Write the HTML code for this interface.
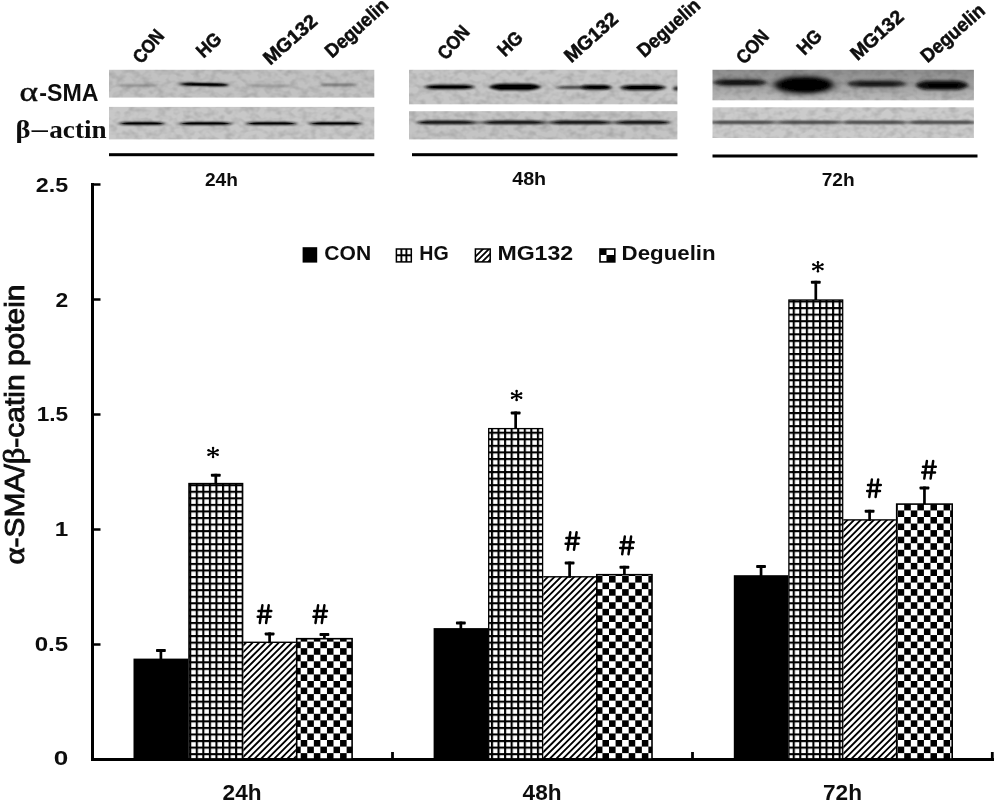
<!DOCTYPE html>
<html><head><meta charset="utf-8"><title>Figure</title>
<style>
html,body{margin:0;padding:0;background:#fff;}
body{width:995px;height:802px;overflow:hidden;}
svg{display:block;}
text{font-family:"Liberation Sans",sans-serif;font-weight:bold;fill:#111;}
.serif{font-family:"Liberation Serif",serif;}
</style></head><body>
<svg width="995" height="802" viewBox="0 0 995 802">
<defs>
<pattern id="grid" patternUnits="userSpaceOnUse" x="5.5" y="5.3" width="6.56" height="6.56">
<rect width="6.56" height="6.56" fill="#fff"/><rect width="6.56" height="2.1" fill="#000"/><rect width="2.1" height="6.56" fill="#000"/></pattern>
<pattern id="chk" patternUnits="userSpaceOnUse" x="5.5" y="5.3" width="13.12" height="13.12">
<rect width="13.12" height="13.12" fill="#fff"/><rect x="6.56" width="6.56" height="6.56" fill="#000"/><rect y="6.56" width="6.56" height="6.56" fill="#000"/></pattern>
<pattern id="hat" patternUnits="userSpaceOnUse" x="2.8" y="0" width="6.56" height="6.56">
<rect width="6.56" height="6.56" fill="#fff"/>
<path d="M-6.56 6.56 L6.56 -6.56 M0 6.56 L6.56 0 M0 13.12 L13.12 0" stroke="#000" stroke-width="1.75" fill="none"/></pattern>
<filter id="b0" x="-20%" y="-200%" width="140%" height="500%"><feGaussianBlur stdDeviation="1.2 0.5"/></filter>
<filter id="b1" x="-20%" y="-200%" width="140%" height="500%"><feGaussianBlur stdDeviation="1.6 0.9"/></filter>
<filter id="b2" x="-20%" y="-200%" width="140%" height="500%"><feGaussianBlur stdDeviation="1.8"/></filter>
<filter id="b3" x="-30%" y="-100%" width="160%" height="300%"><feGaussianBlur stdDeviation="3.2 2.6"/></filter>
<filter id="soft" x="0" y="0" width="995" height="802" filterUnits="userSpaceOnUse"><feGaussianBlur stdDeviation="0.45"/></filter>
<filter id="nz1" x="0" y="0" width="100%" height="100%"><feTurbulence type="fractalNoise" baseFrequency="0.12 0.16" numOctaves="2" seed="7" result="t"/><feColorMatrix in="t" type="matrix" values="0 0 0 0 0 0 0 0 0 0 0 0 0 0 0 0.3 0 0 0 -0.12" result="a"/><feComposite in="a" in2="SourceGraphic" operator="in"/></filter>
<filter id="nz2" x="0" y="0" width="100%" height="100%"><feTurbulence type="fractalNoise" baseFrequency="0.12 0.16" numOctaves="2" seed="14" result="t"/><feColorMatrix in="t" type="matrix" values="0 0 0 0 0 0 0 0 0 0 0 0 0 0 0 0.3 0 0 0 -0.12" result="a"/><feComposite in="a" in2="SourceGraphic" operator="in"/></filter>
<filter id="nz3" x="0" y="0" width="100%" height="100%"><feTurbulence type="fractalNoise" baseFrequency="0.12 0.16" numOctaves="2" seed="21" result="t"/><feColorMatrix in="t" type="matrix" values="0 0 0 0 0 0 0 0 0 0 0 0 0 0 0 0.3 0 0 0 -0.12" result="a"/><feComposite in="a" in2="SourceGraphic" operator="in"/></filter>
<filter id="nz4" x="0" y="0" width="100%" height="100%"><feTurbulence type="fractalNoise" baseFrequency="0.12 0.16" numOctaves="2" seed="28" result="t"/><feColorMatrix in="t" type="matrix" values="0 0 0 0 0 0 0 0 0 0 0 0 0 0 0 0.3 0 0 0 -0.12" result="a"/><feComposite in="a" in2="SourceGraphic" operator="in"/></filter>
<filter id="nz5" x="0" y="0" width="100%" height="100%"><feTurbulence type="fractalNoise" baseFrequency="0.12 0.16" numOctaves="2" seed="35" result="t"/><feColorMatrix in="t" type="matrix" values="0 0 0 0 0 0 0 0 0 0 0 0 0 0 0 0.3 0 0 0 -0.12" result="a"/><feComposite in="a" in2="SourceGraphic" operator="in"/></filter>
<filter id="nz6" x="0" y="0" width="100%" height="100%"><feTurbulence type="fractalNoise" baseFrequency="0.12 0.16" numOctaves="2" seed="42" result="t"/><feColorMatrix in="t" type="matrix" values="0 0 0 0 0 0 0 0 0 0 0 0 0 0 0 0.3 0 0 0 -0.12" result="a"/><feComposite in="a" in2="SourceGraphic" operator="in"/></filter>
</defs>
<rect width="995" height="802" fill="#fff"/>
<g filter="url(#soft)">
<g id="blots">
<rect x="109" y="69.8" width="265.3" height="27.8" fill="#c2c2c2"/>
<rect x="109" y="69.8" width="265.3" height="27.8" fill="#000" filter="url(#nz1)"/>
<path d="M117.0 85.6 Q121.7 84.60 126.5 84.60 H149.6 Q154.3 84.60 159.0 85.6 Q154.3 86.60 149.6 86.60 H126.5 Q121.7 86.60 117.0 85.6Z" fill="#3a3a3a" opacity="0.5" filter="url(#b1)"/>
<path d="M177.0 84.5 Q183.0 82.90 189.0 82.90 H219.0 Q225.0 82.90 231.0 84.5 Q225.0 86.10 219.0 86.10 H189.0 Q183.0 86.10 177.0 84.5Z" fill="#000" opacity="0.95" filter="url(#b1)" transform="rotate(1.2 204.0 84.5)"/>
<path d="M182.0 84.5 Q187.2 83.50 192.3 83.50 H217.7 Q222.8 83.50 228.0 84.5 Q222.8 85.50 217.7 85.50 H192.3 Q187.2 85.50 182.0 84.5Z" fill="#000" opacity="1" filter="url(#b0)" transform="rotate(1.2 205.0 84.5)"/>
<path d="M246.0 85.8 Q251.5 84.90 257.0 84.90 H284.0 Q289.5 84.90 295.0 85.8 Q289.5 86.70 284.0 86.70 H257.0 Q251.5 86.70 246.0 85.8Z" fill="#3a3a3a" opacity="0.45" filter="url(#b1)"/>
<path d="M319.0 84.9 Q323.4 83.80 327.8 83.80 H349.2 Q353.6 83.80 358.0 84.9 Q353.6 86.00 349.2 86.00 H327.8 Q323.4 86.00 319.0 84.9Z" fill="#2a2a2a" opacity="0.6" filter="url(#b1)"/>
<rect x="109" y="106.9" width="265.3" height="32.5" fill="#c8c8c8"/>
<rect x="109" y="106.9" width="265.3" height="32.5" fill="#000" filter="url(#nz2)"/>
<path d="M117.0 123.4 Q122.6 121.90 128.2 121.90 H155.8 Q161.4 121.90 167.0 123.4 Q161.4 124.90 155.8 124.90 H128.2 Q122.6 124.90 117.0 123.4Z" fill="#111" opacity="0.95" filter="url(#b1)"/>
<path d="M121.0 123.4 Q125.7 122.50 130.4 122.50 H153.6 Q158.3 122.50 163.0 123.4 Q158.3 124.30 153.6 124.30 H130.4 Q125.7 124.30 121.0 123.4Z" fill="#000" opacity="0.9" filter="url(#b0)"/>
<path d="M177.0 123.4 Q183.0 121.90 189.0 121.90 H222.0 Q228.0 121.90 234.0 123.4 Q228.0 124.90 222.0 124.90 H189.0 Q183.0 124.90 177.0 123.4Z" fill="#111" opacity="0.95" filter="url(#b1)"/>
<path d="M181.0 123.4 Q186.5 122.50 192.0 122.50 H219.0 Q224.5 122.50 230.0 123.4 Q224.5 124.30 219.0 124.30 H192.0 Q186.5 124.30 181.0 123.4Z" fill="#000" opacity="0.9" filter="url(#b0)"/>
<path d="M244.0 123.4 Q250.0 121.90 256.0 121.90 H287.0 Q293.0 121.90 299.0 123.4 Q293.0 124.90 287.0 124.90 H256.0 Q250.0 124.90 244.0 123.4Z" fill="#111" opacity="0.95" filter="url(#b1)"/>
<path d="M248.0 123.4 Q253.3 122.50 258.6 122.50 H284.4 Q289.7 122.50 295.0 123.4 Q289.7 124.30 284.4 124.30 H258.6 Q253.3 124.30 248.0 123.4Z" fill="#000" opacity="0.9" filter="url(#b0)"/>
<path d="M307.0 123.4 Q313.0 121.90 319.0 121.90 H352.0 Q358.0 121.90 364.0 123.4 Q358.0 124.90 352.0 124.90 H319.0 Q313.0 124.90 307.0 123.4Z" fill="#111" opacity="0.95" filter="url(#b1)"/>
<path d="M311.0 123.4 Q316.5 122.50 322.0 122.50 H349.0 Q354.5 122.50 360.0 123.4 Q354.5 124.30 349.0 124.30 H322.0 Q316.5 124.30 311.0 123.4Z" fill="#000" opacity="0.9" filter="url(#b0)"/>
<clipPath id="c2"><rect x="409" y="69.8" width="268.4" height="34.5"/></clipPath>
<rect x="409" y="69.8" width="268.4" height="34.5" fill="#c6c6c6"/>
<rect x="409" y="69.8" width="268.4" height="34.5" fill="#000" filter="url(#nz3)"/>
<g clip-path="url(#c2)">
<path d="M423.0 87 Q429.0 84.70 434.9 84.70 H464.1 Q470.0 84.70 476.0 87 Q470.0 89.30 464.1 89.30 H434.9 Q429.0 89.30 423.0 87Z" fill="#0c0c0c" opacity="1" filter="url(#b1)"/>
<path d="M429.0 87 Q433.7 85.70 438.4 85.70 H461.6 Q466.3 85.70 471.0 87 Q466.3 88.30 461.6 88.30 H438.4 Q433.7 88.30 429.0 87Z" fill="#000" opacity="1" filter="url(#b0)"/>
<path d="M488.0 87 Q494.0 83.80 500.0 83.80 H530.0 Q536.0 83.80 542.0 87 Q536.0 90.20 530.0 90.20 H500.0 Q494.0 90.20 488.0 87Z" fill="#050505" opacity="1" filter="url(#b1)"/>
<path d="M494.0 87 Q498.8 85.00 503.7 85.00 H527.3 Q532.2 85.00 537.0 87 Q532.2 89.00 527.3 89.00 H503.7 Q498.8 89.00 494.0 87Z" fill="#000" opacity="1" filter="url(#b0)"/>
<path d="M555.0 87.4 Q561.0 86.20 567.0 86.20 H600.0 Q606.0 86.20 612.0 87.4 Q606.0 88.60 600.0 88.60 H567.0 Q561.0 88.60 555.0 87.4Z" fill="#1a1a1a" opacity="1" filter="url(#b1)"/>
<path d="M580.0 87.2 Q583.6 84.90 587.2 84.90 H604.8 Q608.4 84.90 612.0 87.2 Q608.4 89.50 604.8 89.50 H587.2 Q583.6 89.50 580.0 87.2Z" fill="#111" opacity="1" filter="url(#b1)"/>
<path d="M586.0 87.2 Q588.5 86.00 591.0 86.00 H603.0 Q605.5 86.00 608.0 87.2 Q605.5 88.40 603.0 88.40 H591.0 Q588.5 88.40 586.0 87.2Z" fill="#000" opacity="1" filter="url(#b0)"/>
<path d="M619.0 87.6 Q624.4 85.00 629.8 85.00 H656.2 Q661.6 85.00 667.0 87.6 Q661.6 90.20 656.2 90.20 H629.8 Q624.4 90.20 619.0 87.6Z" fill="#0a0a0a" opacity="1" filter="url(#b1)"/>
<path d="M625.0 87.6 Q629.2 86.10 633.3 86.10 H653.7 Q657.8 86.10 662.0 87.6 Q657.8 89.10 653.7 89.10 H633.3 Q629.2 89.10 625.0 87.6Z" fill="#000" opacity="1" filter="url(#b0)"/>
<ellipse cx="677.0" cy="88.6" rx="4.0" ry="2.00" fill="#222" opacity="1" filter="url(#b1)"/>
</g>
<rect x="409" y="111.2" width="268.4" height="28.2" fill="#c4c4c4"/>
<rect x="409" y="111.2" width="268.4" height="28.2" fill="#000" filter="url(#nz4)"/>
<path d="M415.0 122.4 Q421.0 120.80 427.0 120.80 H465.0 Q471.0 120.80 477.0 122.4 Q471.0 124.00 465.0 124.00 H427.0 Q421.0 124.00 415.0 122.4Z" fill="#111" opacity="0.95" filter="url(#b1)"/>
<path d="M420.0 122.4 Q425.9 121.50 431.7 121.50 H460.3 Q466.1 121.50 472.0 122.4 Q466.1 123.30 460.3 123.30 H431.7 Q425.9 123.30 420.0 122.4Z" fill="#000" opacity="0.9" filter="url(#b0)"/>
<path d="M482.0 122.4 Q488.0 120.80 494.0 120.80 H534.0 Q540.0 120.80 546.0 122.4 Q540.0 124.00 534.0 124.00 H494.0 Q488.0 124.00 482.0 122.4Z" fill="#111" opacity="0.95" filter="url(#b1)"/>
<path d="M487.0 122.4 Q493.0 121.50 499.0 121.50 H529.0 Q535.0 121.50 541.0 122.4 Q535.0 123.30 529.0 123.30 H499.0 Q493.0 123.30 487.0 122.4Z" fill="#000" opacity="0.9" filter="url(#b0)"/>
<path d="M549.0 122.4 Q555.0 120.80 561.0 120.80 H600.0 Q606.0 120.80 612.0 122.4 Q606.0 124.00 600.0 124.00 H561.0 Q555.0 124.00 549.0 122.4Z" fill="#111" opacity="0.95" filter="url(#b1)"/>
<path d="M554.0 122.4 Q560.0 121.50 565.9 121.50 H595.1 Q601.0 121.50 607.0 122.4 Q601.0 123.30 595.1 123.30 H565.9 Q560.0 123.30 554.0 122.4Z" fill="#000" opacity="0.9" filter="url(#b0)"/>
<path d="M614.0 122.4 Q620.0 120.80 626.0 120.80 H660.0 Q666.0 120.80 672.0 122.4 Q666.0 124.00 660.0 124.00 H626.0 Q620.0 124.00 614.0 122.4Z" fill="#111" opacity="0.95" filter="url(#b1)"/>
<path d="M619.0 122.4 Q624.4 121.50 629.8 121.50 H656.2 Q661.6 121.50 667.0 122.4 Q661.6 123.30 656.2 123.30 H629.8 Q624.4 123.30 619.0 122.4Z" fill="#000" opacity="0.9" filter="url(#b0)"/>
<path d="M418.0 122.4 Q424.0 121.40 430.0 121.40 H657.0 Q663.0 121.40 669.0 122.4 Q663.0 123.40 657.0 123.40 H430.0 Q424.0 123.40 418.0 122.4Z" fill="#333" opacity="0.8" filter="url(#b1)"/>
<linearGradient id="g3" x1="0" y1="0" x2="0" y2="1"><stop offset="0" stop-color="#8e8e8e"/><stop offset="0.55" stop-color="#a0a0a0"/><stop offset="1" stop-color="#bcbcbc"/></linearGradient>
<rect x="712.5" y="69.8" width="261.4" height="30.5" fill="url(#g3)"/>
<rect x="712.5" y="69.8" width="261.4" height="30.5" fill="#000" filter="url(#nz5)"/>
<clipPath id="c3"><rect x="712.5" y="69.8" width="261.4" height="30.5"/></clipPath>
<g clip-path="url(#c3)">
<path d="M712.0 82.6 Q718.0 79.35 724.0 79.35 H756.0 Q762.0 79.35 768.0 82.6 Q762.0 85.85 756.0 85.85 H724.0 Q718.0 85.85 712.0 82.6Z" fill="#1a1a1a" opacity="0.95" filter="url(#b2)"/>
<path d="M720.0 82.6 Q724.5 81.10 729.0 81.10 H751.0 Q755.5 81.10 760.0 82.6 Q755.5 84.10 751.0 84.10 H729.0 Q724.5 84.10 720.0 82.6Z" fill="#000" opacity="0.6" filter="url(#b1)"/>
<ellipse cx="804.0" cy="84.9" rx="30.0" ry="8.50" fill="#000" opacity="1" filter="url(#b3)"/>
<ellipse cx="805.0" cy="84.9" rx="23.0" ry="5.50" fill="#000" opacity="1" filter="url(#b2)"/>
<path d="M846.0 83.8 Q852.0 80.55 858.0 80.55 H895.0 Q901.0 80.55 907.0 83.8 Q901.0 87.05 895.0 87.05 H858.0 Q852.0 87.05 846.0 83.8Z" fill="#202020" opacity="0.95" filter="url(#b2)"/>
<path d="M856.0 84 Q860.7 82.50 865.5 82.50 H888.5 Q893.3 82.50 898.0 84 Q893.3 85.50 888.5 85.50 H865.5 Q860.7 85.50 856.0 84Z" fill="#000" opacity="0.5" filter="url(#b1)"/>
<path d="M915.0 85.3 Q921.0 80.80 927.0 80.80 H957.0 Q963.0 80.80 969.0 85.3 Q963.0 89.80 957.0 89.80 H927.0 Q921.0 89.80 915.0 85.3Z" fill="#0a0a0a" opacity="1" filter="url(#b2)"/>
<path d="M925.0 85.3 Q929.0 83.05 933.1 83.05 H952.9 Q957.0 83.05 961.0 85.3 Q957.0 87.55 952.9 87.55 H933.1 Q929.0 87.55 925.0 85.3Z" fill="#000" opacity="0.8" filter="url(#b1)"/>
</g>
<rect x="712.5" y="107.3" width="261.4" height="30.7" fill="#cbcbcb"/>
<rect x="712.5" y="107.3" width="261.4" height="30.7" fill="#000" filter="url(#nz6)"/>
<clipPath id="c4"><rect x="712.5" y="107.3" width="261.4" height="30.7"/></clipPath>
<g clip-path="url(#c4)">
<path d="M706.0 122.4 Q712.0 121.30 718.0 121.30 H764.0 Q770.0 121.30 776.0 122.4 Q770.0 123.50 764.0 123.50 H718.0 Q712.0 123.50 706.0 122.4Z" fill="#222" opacity="0.95" filter="url(#b1)"/>
<path d="M778.0 122.4 Q784.0 121.30 790.0 121.30 H829.0 Q835.0 121.30 841.0 122.4 Q835.0 123.50 829.0 123.50 H790.0 Q784.0 123.50 778.0 122.4Z" fill="#222" opacity="0.95" filter="url(#b1)"/>
<path d="M842.0 122.4 Q848.0 121.30 854.0 121.30 H895.0 Q901.0 121.30 907.0 122.4 Q901.0 123.50 895.0 123.50 H854.0 Q848.0 123.50 842.0 122.4Z" fill="#222" opacity="0.95" filter="url(#b1)"/>
<path d="M908.0 122.4 Q914.0 121.30 920.0 121.30 H968.0 Q974.0 121.30 980.0 122.4 Q974.0 123.50 968.0 123.50 H920.0 Q914.0 123.50 908.0 122.4Z" fill="#222" opacity="0.95" filter="url(#b1)"/>
<path d="M713.0 122.4 Q719.0 121.60 725.0 121.60 H961.9 Q967.9 121.60 973.9 122.4 Q967.9 123.20 961.9 123.20 H725.0 Q719.0 123.20 713.0 122.4Z" fill="#444" opacity="0.8" filter="url(#b1)"/>
</g>
<rect x="109" y="153.2" width="265.3" height="3" fill="#000"/>
<rect x="412" y="153.2" width="265.5" height="3" fill="#000"/>
<rect x="712.5" y="154.5" width="265" height="3" fill="#000"/>
</g>
<text transform="translate(141.4 64.7) rotate(-50)" font-size="19.2" textLength="37" lengthAdjust="spacingAndGlyphs" stroke="#111" stroke-width="0.55">CON</text>
<text transform="translate(203.4 58.7) rotate(-43)" font-size="19.2" textLength="26.5" lengthAdjust="spacingAndGlyphs" stroke="#111" stroke-width="0.55">HG</text>
<text transform="translate(270.3 65.8) rotate(-41.5)" font-size="19.2" textLength="64.5" lengthAdjust="spacingAndGlyphs" stroke="#111" stroke-width="0.55">MG132</text>
<text transform="translate(332.1 58.8) rotate(-42)" font-size="19.2" textLength="77.3" lengthAdjust="spacingAndGlyphs" stroke="#111" stroke-width="0.55">Deguelin</text>
<text transform="translate(446.1 60.9) rotate(-49)" font-size="19.2" textLength="37.5" lengthAdjust="spacingAndGlyphs" stroke="#111" stroke-width="0.55">CON</text>
<text transform="translate(505.0 57.6) rotate(-44)" font-size="19.2" textLength="26.5" lengthAdjust="spacingAndGlyphs" stroke="#111" stroke-width="0.55">HG</text>
<text transform="translate(571.15 63.5) rotate(-41.5)" font-size="19.2" textLength="64.5" lengthAdjust="spacingAndGlyphs" stroke="#111" stroke-width="0.55">MG132</text>
<text transform="translate(644.3 58.2) rotate(-41.7)" font-size="19.2" textLength="76.8" lengthAdjust="spacingAndGlyphs" stroke="#111" stroke-width="0.55">Deguelin</text>
<text transform="translate(744.6 65.2) rotate(-48)" font-size="19.2" textLength="38" lengthAdjust="spacingAndGlyphs" stroke="#111" stroke-width="0.55">CON</text>
<text transform="translate(804.6 56.1) rotate(-45)" font-size="19.2" textLength="26.5" lengthAdjust="spacingAndGlyphs" stroke="#111" stroke-width="0.55">HG</text>
<text transform="translate(857.4 61.3) rotate(-42)" font-size="19.2" textLength="64" lengthAdjust="spacingAndGlyphs" stroke="#111" stroke-width="0.55">MG132</text>
<text transform="translate(927.4 63.5) rotate(-40.9)" font-size="19.2" textLength="78" lengthAdjust="spacingAndGlyphs" stroke="#111" stroke-width="0.55">Deguelin</text>
<text x="19.5" y="100.5" font-size="27.5" class="serif" textLength="18.5" lengthAdjust="spacingAndGlyphs" style="font-weight:normal" stroke="#111" stroke-width="0.5">α</text>
<text x="39.3" y="100.5" font-size="23.5" textLength="59.2" lengthAdjust="spacingAndGlyphs">-SMA</text>
<text x="15.6" y="138" font-size="25" class="serif" textLength="15" lengthAdjust="spacingAndGlyphs">β</text>
<rect x="31.5" y="130.3" width="16.5" height="1.7" fill="#111"/>
<text x="49.3" y="138" font-size="25" class="serif" textLength="57.3" lengthAdjust="spacingAndGlyphs">actin</text>
<text x="204.9" y="185.7" font-size="18" textLength="33" lengthAdjust="spacingAndGlyphs" text-anchor="start">24h</text>
<text x="512.2" y="185.2" font-size="18" textLength="34" lengthAdjust="spacingAndGlyphs" text-anchor="start">48h</text>
<text x="821.7" y="185.7" font-size="18" textLength="33" lengthAdjust="spacingAndGlyphs" text-anchor="start">72h</text>
<rect x="91" y="183" width="3" height="578" fill="#000"/>
<rect x="91" y="758" width="903" height="3" fill="#000"/>
<rect x="91" y="643.25" width="9.5" height="2.5" fill="#000"/>
<rect x="91" y="528.25" width="9.5" height="2.5" fill="#000"/>
<rect x="91" y="413.25" width="9.5" height="2.5" fill="#000"/>
<rect x="91" y="298.25" width="9.5" height="2.5" fill="#000"/>
<rect x="91" y="183.25" width="9.5" height="2.5" fill="#000"/>
<rect x="391.1" y="752" width="2.8" height="8" fill="#000"/>
<rect x="691.1" y="752" width="2.8" height="8" fill="#000"/>
<rect x="990.9" y="752" width="2.8" height="8" fill="#000"/>
<text x="68.2" y="765.4000000000001" font-size="20" textLength="14.5" lengthAdjust="spacingAndGlyphs" text-anchor="end">0</text>
<text x="68.2" y="650.5" font-size="20" textLength="33.5" lengthAdjust="spacingAndGlyphs" text-anchor="end">0.5</text>
<text x="68.2" y="535.8000000000001" font-size="20" textLength="13.5" lengthAdjust="spacingAndGlyphs" text-anchor="end">1</text>
<text x="68.2" y="421.2" font-size="20" textLength="31.5" lengthAdjust="spacingAndGlyphs" text-anchor="end">1.5</text>
<text x="68.2" y="306.5" font-size="20" textLength="12.7" lengthAdjust="spacingAndGlyphs" text-anchor="end">2</text>
<text x="68.2" y="191.7" font-size="20" textLength="32.4" lengthAdjust="spacingAndGlyphs" text-anchor="end">2.5</text>
<text transform="translate(23.5 564.5) rotate(-90)" font-size="27.6" textLength="280" lengthAdjust="spacingAndGlyphs" style="font-weight:normal" stroke="#111" stroke-width="0.9"><tspan class="serif" font-size="30">α</tspan>-SMA/<tspan class="serif" font-size="30">β</tspan>-catin potein</text>
<text x="222.6" y="800.2" font-size="21.6" textLength="39" lengthAdjust="spacingAndGlyphs" text-anchor="start">24h</text>
<text x="522.6" y="800.2" font-size="21.6" textLength="39" lengthAdjust="spacingAndGlyphs" text-anchor="start">48h</text>
<text x="823" y="800.2" font-size="21.6" textLength="39" lengthAdjust="spacingAndGlyphs" text-anchor="start">72h</text>
<rect x="302.6" y="247.2" width="14.6" height="15.4" fill="#000"/>
<text x="324.3" y="259.8" font-size="20" textLength="46.8" lengthAdjust="spacingAndGlyphs" text-anchor="start">CON</text>
<g><rect x="396.4" y="249" width="14.9" height="12.9" fill="#fff" stroke="#000" stroke-width="1.5"/><path d="M401.4 249V262M406.4 249V262M396 255.3H412" stroke="#000" stroke-width="1.9"/></g>
<text x="419.3" y="259.8" font-size="20" textLength="29.4" lengthAdjust="spacingAndGlyphs" text-anchor="start">HG</text>
<g><clipPath id="lc3"><rect x="475.4" y="249" width="14.8" height="12.9"/></clipPath><rect x="475.4" y="249" width="14.8" height="12.9" fill="#fff"/><g clip-path="url(#lc3)"><path d="M470 262L484 248M475 263L490 248M480 264L495 249M485 265L500 250" stroke="#000" stroke-width="1.8"/></g><rect x="475.4" y="249" width="14.8" height="12.9" fill="none" stroke="#000" stroke-width="1.5"/></g>
<text x="497.4" y="259.8" font-size="20" textLength="75.8" lengthAdjust="spacingAndGlyphs" text-anchor="start">MG132</text>
<g><rect x="600" y="249" width="14.8" height="12.9" fill="#fff" stroke="#000" stroke-width="1.6"/><rect x="600" y="249" width="6.5" height="6" fill="#000"/><rect x="606.5" y="255" width="8.3" height="6.9" fill="#000"/></g>
<text x="621.6" y="259.8" font-size="20" textLength="94" lengthAdjust="spacingAndGlyphs" text-anchor="start">Deguelin</text>
<rect x="159.55" y="649.0" width="2.7" height="10.6" fill="#000"/><rect x="156.00" y="649.0" width="9.8" height="3" rx="0.8" fill="#000"/>
<rect x="214.45" y="473.8" width="2.7" height="10.1" fill="#000"/><rect x="210.90" y="473.8" width="9.8" height="3" rx="0.8" fill="#000"/>
<rect x="268.25" y="632.4" width="2.7" height="10.9" fill="#000"/><rect x="264.70" y="632.4" width="9.8" height="3" rx="0.8" fill="#000"/>
<rect x="323.05" y="633.1" width="2.7" height="5.8" fill="#000"/><rect x="319.50" y="633.1" width="9.8" height="3" rx="0.8" fill="#000"/>
<rect x="133.5" y="658.6" width="54.8" height="99.6" fill="#000"/>
<rect x="188.9" y="483.5" width="53.8" height="275.3" fill="url(#grid)" stroke="#000" stroke-width="1.3"/>
<clipPath id="hc243"><rect x="243.3" y="642.3" width="52.6" height="115.9"/></clipPath><path d="M242.3 646.35L296.9 591.75M242.3 652.91L296.9 598.31M242.3 659.47L296.9 604.87M242.3 666.03L296.9 611.43M242.3 672.59L296.9 617.99M242.3 679.15L296.9 624.55M242.3 685.71L296.9 631.11M242.3 692.27L296.9 637.67M242.3 698.83L296.9 644.23M242.3 705.39L296.9 650.79M242.3 711.95L296.9 657.35M242.3 718.51L296.9 663.91M242.3 725.07L296.9 670.47M242.3 731.63L296.9 677.03M242.3 738.19L296.9 683.59M242.3 744.75L296.9 690.15M242.3 751.31L296.9 696.71M242.3 757.87L296.9 703.27M242.3 764.43L296.9 709.83M242.3 770.99L296.9 716.39M242.3 777.55L296.9 722.95M242.3 784.11L296.9 729.51M242.3 790.67L296.9 736.07M242.3 797.23L296.9 742.63M242.3 803.79L296.9 749.19M242.3 810.35L296.9 755.75" stroke="#000" stroke-width="1.85" fill="none" clip-path="url(#hc243)"/><rect x="243.3" y="641.6" width="52.6" height="1.4" fill="#000"/>
<rect x="296.7" y="638.7" width="55.4" height="120.3" fill="url(#chk)" stroke="#000" stroke-width="1.6"/>
<rect x="459.50" y="621.6" width="2.7" height="7.5" fill="#000"/><rect x="455.95" y="621.6" width="9.8" height="3" rx="0.8" fill="#000"/>
<rect x="514.30" y="411.5" width="2.7" height="17.5" fill="#000"/><rect x="510.75" y="411.5" width="9.8" height="3" rx="0.8" fill="#000"/>
<rect x="568.25" y="561.6" width="2.7" height="16.2" fill="#000"/><rect x="564.70" y="561.6" width="9.8" height="3" rx="0.8" fill="#000"/>
<rect x="623.05" y="565.8" width="2.7" height="9.1" fill="#000"/><rect x="619.50" y="565.8" width="9.8" height="3" rx="0.8" fill="#000"/>
<rect x="433.6" y="628.1" width="54.5" height="130.1" fill="#000"/>
<rect x="488.7" y="428.6" width="53.9" height="330.2" fill="url(#grid)" stroke="#000" stroke-width="1.3"/>
<clipPath id="hc543"><rect x="543.2" y="576.8" width="52.8" height="181.4"/></clipPath><path d="M542.2 576.05L597.0 521.25M542.2 582.61L597.0 527.81M542.2 589.17L597.0 534.37M542.2 595.73L597.0 540.93M542.2 602.29L597.0 547.49M542.2 608.85L597.0 554.05M542.2 615.41L597.0 560.61M542.2 621.97L597.0 567.17M542.2 628.53L597.0 573.73M542.2 635.09L597.0 580.29M542.2 641.65L597.0 586.85M542.2 648.21L597.0 593.41M542.2 654.77L597.0 599.97M542.2 661.33L597.0 606.53M542.2 667.89L597.0 613.09M542.2 674.45L597.0 619.65M542.2 681.01L597.0 626.21M542.2 687.57L597.0 632.77M542.2 694.13L597.0 639.33M542.2 700.69L597.0 645.89M542.2 707.25L597.0 652.45M542.2 713.81L597.0 659.01M542.2 720.37L597.0 665.57M542.2 726.93L597.0 672.13M542.2 733.49L597.0 678.69M542.2 740.05L597.0 685.25M542.2 746.61L597.0 691.81M542.2 753.17L597.0 698.37M542.2 759.73L597.0 704.93M542.2 766.29L597.0 711.49M542.2 772.85L597.0 718.05M542.2 779.41L597.0 724.61M542.2 785.97L597.0 731.17M542.2 792.53L597.0 737.73M542.2 799.09L597.0 744.29M542.2 805.65L597.0 750.85M542.2 812.21L597.0 757.41" stroke="#000" stroke-width="1.85" fill="none" clip-path="url(#hc543)"/><rect x="543.2" y="576.1" width="52.8" height="1.4" fill="#000"/>
<rect x="596.8" y="574.7" width="55.2" height="184.3" fill="url(#chk)" stroke="#000" stroke-width="1.6"/>
<rect x="759.70" y="565.1" width="2.7" height="11.1" fill="#000"/><rect x="756.15" y="565.1" width="9.8" height="3" rx="0.8" fill="#000"/>
<rect x="814.45" y="280.8" width="2.7" height="19.6" fill="#000"/><rect x="810.90" y="280.8" width="9.8" height="3" rx="0.8" fill="#000"/>
<rect x="868.25" y="509.8" width="2.7" height="11.1" fill="#000"/><rect x="864.70" y="509.8" width="9.8" height="3" rx="0.8" fill="#000"/>
<rect x="923.10" y="486.5" width="2.7" height="17.8" fill="#000"/><rect x="919.55" y="486.5" width="9.8" height="3" rx="0.8" fill="#000"/>
<rect x="733.8" y="575.2" width="54.5" height="183.0" fill="#000"/>
<rect x="788.9" y="300.0" width="53.8" height="458.8" fill="url(#grid)" stroke="#000" stroke-width="1.3"/>
<clipPath id="hc843"><rect x="843.3" y="519.9" width="52.6" height="238.3"/></clipPath><path d="M842.3 525.23L896.9 470.63M842.3 531.79L896.9 477.19M842.3 538.35L896.9 483.75M842.3 544.91L896.9 490.31M842.3 551.47L896.9 496.87M842.3 558.03L896.9 503.43M842.3 564.59L896.9 509.99M842.3 571.15L896.9 516.55M842.3 577.71L896.9 523.11M842.3 584.27L896.9 529.67M842.3 590.83L896.9 536.23M842.3 597.39L896.9 542.79M842.3 603.95L896.9 549.35M842.3 610.51L896.9 555.91M842.3 617.07L896.9 562.47M842.3 623.63L896.9 569.03M842.3 630.19L896.9 575.59M842.3 636.75L896.9 582.15M842.3 643.31L896.9 588.71M842.3 649.87L896.9 595.27M842.3 656.43L896.9 601.83M842.3 662.99L896.9 608.39M842.3 669.55L896.9 614.95M842.3 676.11L896.9 621.51M842.3 682.67L896.9 628.07M842.3 689.23L896.9 634.63M842.3 695.79L896.9 641.19M842.3 702.35L896.9 647.75M842.3 708.91L896.9 654.31M842.3 715.47L896.9 660.87M842.3 722.03L896.9 667.43M842.3 728.59L896.9 673.99M842.3 735.15L896.9 680.55M842.3 741.71L896.9 687.11M842.3 748.27L896.9 693.67M842.3 754.83L896.9 700.23M842.3 761.39L896.9 706.79M842.3 767.95L896.9 713.35M842.3 774.51L896.9 719.91M842.3 781.07L896.9 726.47M842.3 787.63L896.9 733.03M842.3 794.19L896.9 739.59M842.3 800.75L896.9 746.15M842.3 807.31L896.9 752.71" stroke="#000" stroke-width="1.85" fill="none" clip-path="url(#hc843)"/><rect x="843.3" y="519.2" width="52.6" height="1.4" fill="#000"/>
<rect x="896.7" y="504.1" width="55.5" height="254.9" fill="url(#chk)" stroke="#000" stroke-width="1.6"/>
<g transform="translate(213.05 452.5)" stroke="#000" stroke-width="1.7" stroke-linecap="round" fill="#000"><path d="M0 -4.6V4.6M-4.6 -2.2L4.6 2.2M-4.6 2.2L4.6 -2.2"/><g stroke="none"><circle cx="0" cy="-4.5" r="1.25"/><circle cx="0" cy="4.5" r="1.25"/><circle cx="-4.5" cy="-2.2" r="1.25"/><circle cx="4.5" cy="2.2" r="1.25"/><circle cx="-4.5" cy="2.2" r="1.25"/><circle cx="4.5" cy="-2.2" r="1.25"/></g></g>
<g transform="translate(516.6 395.6)" stroke="#000" stroke-width="1.7" stroke-linecap="round" fill="#000"><path d="M0 -4.6V4.6M-4.6 -2.2L4.6 2.2M-4.6 2.2L4.6 -2.2"/><g stroke="none"><circle cx="0" cy="-4.5" r="1.25"/><circle cx="0" cy="4.5" r="1.25"/><circle cx="-4.5" cy="-2.2" r="1.25"/><circle cx="4.5" cy="2.2" r="1.25"/><circle cx="-4.5" cy="2.2" r="1.25"/><circle cx="4.5" cy="-2.2" r="1.25"/></g></g>
<g transform="translate(817.9 266.7)" stroke="#000" stroke-width="1.7" stroke-linecap="round" fill="#000"><path d="M0 -4.6V4.6M-4.6 -2.2L4.6 2.2M-4.6 2.2L4.6 -2.2"/><g stroke="none"><circle cx="0" cy="-4.5" r="1.25"/><circle cx="0" cy="4.5" r="1.25"/><circle cx="-4.5" cy="-2.2" r="1.25"/><circle cx="4.5" cy="2.2" r="1.25"/><circle cx="-4.5" cy="2.2" r="1.25"/><circle cx="4.5" cy="-2.2" r="1.25"/></g></g>
<path transform="translate(264.5 614.15)" d="M-4.7 8.8L-2.1 -8.8M1.6 8.8L4.2 -8.8M-6 -3.1H6.8M-6.8 2.7H6" stroke="#000" stroke-width="2.5" stroke-linecap="round" fill="none"/>
<path transform="translate(320.2 614.15)" d="M-4.7 8.8L-2.1 -8.8M1.6 8.8L4.2 -8.8M-6 -3.1H6.8M-6.8 2.7H6" stroke="#000" stroke-width="2.5" stroke-linecap="round" fill="none"/>
<path transform="translate(572.4 541)" d="M-4.7 8.8L-2.1 -8.8M1.6 8.8L4.2 -8.8M-6 -3.1H6.8M-6.8 2.7H6" stroke="#000" stroke-width="2.5" stroke-linecap="round" fill="none"/>
<path transform="translate(626.9 545.4)" d="M-4.7 8.8L-2.1 -8.8M1.6 8.8L4.2 -8.8M-6 -3.1H6.8M-6.8 2.7H6" stroke="#000" stroke-width="2.5" stroke-linecap="round" fill="none"/>
<path transform="translate(874 488.2)" d="M-4.7 8.8L-2.1 -8.8M1.6 8.8L4.2 -8.8M-6 -3.1H6.8M-6.8 2.7H6" stroke="#000" stroke-width="2.5" stroke-linecap="round" fill="none"/>
<path transform="translate(929 469.8)" d="M-4.7 8.8L-2.1 -8.8M1.6 8.8L4.2 -8.8M-6 -3.1H6.8M-6.8 2.7H6" stroke="#000" stroke-width="2.5" stroke-linecap="round" fill="none"/>
</g>
</svg>
</body></html>
